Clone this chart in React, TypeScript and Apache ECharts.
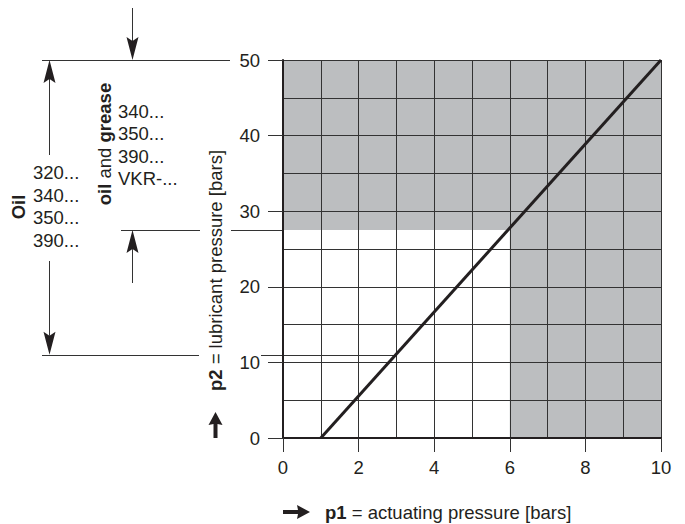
import React, { useEffect, useRef } from "react";
import * as echarts from "echarts";

// ---- data ----
const P1_RANGE = [0, 10];
const P2_RANGE = [0, 50];
const LINE_P1 = [1, 10];
const LINE_P2 = [0, 50];
const SHADE_RECTS = [
  [0, 27.5, 10, 50],
  [6, 0, 10, 50],
];
const TOP_LIMIT = 50;
const GREASE_LIMIT = 27.5;
const OIL_LIMIT = 11;
const OIL_MODELS = ["320...", "340...", "350...", "390..."];
const GREASE_MODELS = ["340...", "350...", "390...", "VKR-..."];

const FONT = "'Liberation Sans', Arial, Helvetica, sans-serif";
const FS = 18.5;
const INK = "#231f20";
const GRID = "#333333";
const SHADE = "#bcbec0";

export default function App() {
  const ref = useRef<HTMLDivElement>(null);

  useEffect(() => {
    if (!ref.current) return;
    const chart = echarts.init(ref.current, null, { renderer: "svg" });

    const axisCommon = {
      type: "value",
      z: 5,
      axisLine: { show: true, lineStyle: { color: INK, width: 2 } },
      axisTick: { show: true, inside: false, lineStyle: { color: GRID, width: 1 } },
      splitLine: { show: true, lineStyle: { color: GRID, width: 1 } },
      minorTick: { show: false, splitNumber: 2 },
      minorSplitLine: { show: true, lineStyle: { color: GRID, width: 1 } },
    };

    chart.setOption({
      animation: false,
      grid: { left: 283, top: 60, width: 378, height: 378, containLabel: false },
      xAxis: {
        ...axisCommon,
        min: P1_RANGE[0],
        max: P1_RANGE[1],
        interval: 2,
        axisTick: { ...axisCommon.axisTick, length: 14 },
        axisLabel: { margin: 20, fontSize: FS, color: INK, fontFamily: FONT },
      },
      yAxis: {
        ...axisCommon,
        min: P2_RANGE[0],
        max: P2_RANGE[1],
        interval: 10,
        axisTick: { ...axisCommon.axisTick, length: 15 },
        axisLabel: { margin: 23, fontSize: FS, color: INK, fontFamily: FONT },
      },
      series: [
        {
          type: "custom",
          z: 1,
          silent: true,
          encode: { x: [0, 2], y: [1, 3] },
          data: SHADE_RECTS,
          renderItem: (params: any, api: any) => {
            const a = api.coord([api.value(0), api.value(3)]);
            const b = api.coord([api.value(2), api.value(1)]);
            return {
              type: "rect",
              shape: { x: a[0], y: a[1], width: b[0] - a[0], height: b[1] - a[1] },
              style: { fill: SHADE },
            };
          },
        },
        {
          type: "line",
          z: 10,
          symbol: "none",
          data: LINE_P1.map((x, i) => [x, LINE_P2[i]]),
          lineStyle: { color: INK, width: 3 },
        },
      ],
    });

    const pt = (x: number, y: number) =>
      chart.convertToPixel({ xAxisIndex: 0, yAxisIndex: 0 }, [x, y]) as number[];
    const yTop = pt(0, TOP_LIMIT)[1];
    const yGrease = pt(0, GREASE_LIMIT)[1];
    const yOil = pt(0, OIL_LIMIT)[1];
    const xAxis0 = pt(0, 0)[0];
    const oilP1 =
      LINE_P1[0] + ((OIL_LIMIT - LINE_P2[0]) * (LINE_P1[1] - LINE_P1[0])) / (LINE_P2[1] - LINE_P2[0]);
    const xDiag = pt(oilP1, OIL_LIMIT)[0];

    const thin = { stroke: GRID, lineWidth: 1 };
    const hline = (x1: number, x2: number, y: number) => ({
      type: "line",
      silent: true,
      shape: { x1, y1: Math.round(y) + 0.5, x2, y2: Math.round(y) + 0.5 },
      style: thin,
    });
    const arrow = (x: number, from: number, to: number) => {
      const dir = to > from ? 1 : -1;
      const L = 23;
      const W = 6;
      const base = to - dir * L;
      return [
        {
          type: "line",
          silent: true,
          shape: { x1: x, y1: from, x2: x, y2: base + dir * 4 },
          style: thin,
        },
        {
          type: "polygon",
          silent: true,
          shape: {
            points: [
              [x, to],
              [x + W, base],
              [x, base + dir * 4],
              [x - W, base],
            ],
          },
          style: { fill: INK },
        },
      ];
    };

    const textEl = (text: string, x: number, y: number, extra: any = {}) => ({
      type: "text",
      silent: true,
      x,
      y,
      ...extra,
      style: {
        text,
        fontSize: FS,
        fontFamily: FONT,
        fill: INK,
        align: "left",
        verticalAlign: "middle",
        rich: {
          b: { fontWeight: "bold", fontSize: FS, fontFamily: FONT, fill: INK },
        },
        ...(extra.style || {}),
      },
    });

    const elements: any[] = [
      hline(42, 230, yTop),
      hline(121, 200, yGrease),
      hline(231, xAxis0, yGrease),
      hline(42, 199, yOil),
      hline(261, xDiag, yOil),
      ...arrow(132.5, 8, yTop),
      ...arrow(49.5, 155, yTop),
      ...arrow(49.5, 261, yOil),
      ...arrow(132.5, 283, yGrease),
      // rotated headings
      {
        type: "text",
        silent: true,
        x: 18.5,
        y: 207,
        rotation: Math.PI / 2,
        style: {
          text: "Oil",
          fontSize: FS,
          fontWeight: "bold",
          fontFamily: FONT,
          fill: INK,
          align: "center",
          verticalAlign: "middle",
        },
      },
      textEl("{b|oil} and {b|grease}", 104, 144, {
        rotation: Math.PI / 2,
        style: { align: "center" },
      }),
      textEl("{b|p2} = lubricant pressure [bars]", 215.5, 270.5, {
        rotation: Math.PI / 2,
        style: { align: "center" },
      }),
      textEl("{b|p1} = actuating pressure [bars]", 325, 512.5),
      // thick arrows
      {
        type: "polygon",
        silent: true,
        shape: {
          points: [
            [215.5, 412],
            [222.5, 425],
            [217.5, 424],
            [217.5, 438],
            [213.5, 438],
            [213.5, 424],
            [208.5, 425],
          ],
        },
        style: { fill: INK },
      },
      {
        type: "polygon",
        silent: true,
        shape: {
          points: [
            [310, 512],
            [297, 519],
            [298, 514],
            [283, 514],
            [283, 510],
            [298, 510],
            [297, 505],
          ],
        },
        style: { fill: INK },
      },
    ];

    OIL_MODELS.forEach((m, i) => elements.push(textEl(m, 33, 172.5 + i * 22.6)));
    GREASE_MODELS.forEach((m, i) => elements.push(textEl(m, 118, 111.5 + i * 22.4)));

    chart.setOption({ graphic: { elements } });

    return () => chart.dispose();
  }, []);

  return (
    <div
      ref={ref}
      style={{ position: "absolute", left: 0, top: 0, width: 685, height: 524, background: "#fff" }}
    />
  );
}
